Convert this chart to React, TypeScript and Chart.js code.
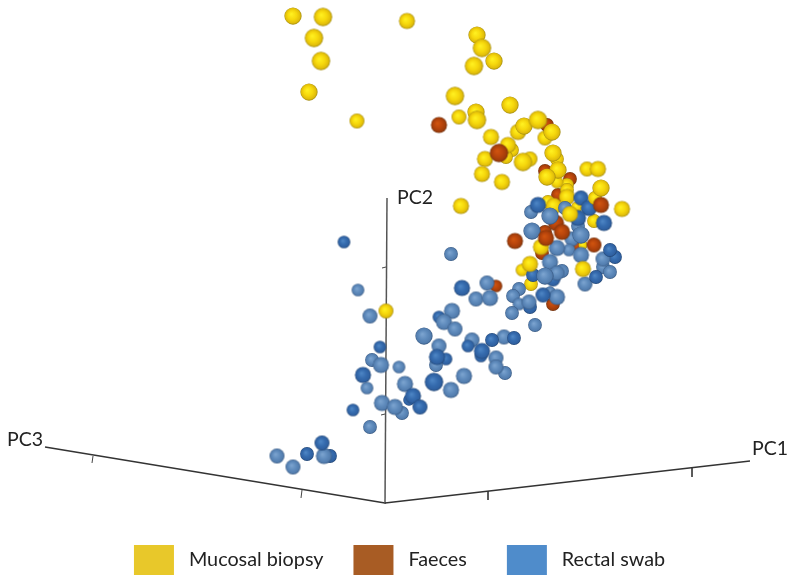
import { useEffect, useRef } from "react";
import { Chart, registerables } from "chart.js";

Chart.register(...registerables);

type P = [number, number, number];

const seriesNames = ["Mucosal biopsy", "Faeces", "Rectal swab"];
const axisNames = ["PC1", "PC2", "PC3"];
const axisNameAnchors = [[752, 449], [397, 198], [7, 440]];

// Projected [PC-plane x, PC-plane y, apparent size]
const mucosalFront: P[] = [
  [293, 16, 7.5], [323, 17, 8], [314, 38, 8], [321, 61, 8], [309, 92, 7.5], [357, 121, 6.5], [407, 21, 7],
  [477, 35, 7.5], [482, 48, 8], [494, 61, 7.5], [474, 66, 8], [455, 96, 8], [476, 112, 7.5], [477, 120, 8],
  [459, 117, 6.5], [510, 105, 7.5], [518, 132, 7], [524, 126, 7.5], [538, 120, 8], [545, 138, 6.5], [552, 132, 7.5],
  [491, 137, 7], [512, 150, 6], [506, 157, 6], [508, 145, 7], [485, 159, 7], [530, 159, 6.5], [523, 162, 8],
  [482, 174, 7], [502, 182, 7], [557, 159, 6], [553, 153, 7.5], [557, 182, 5.5], [558, 170, 7.5], [547, 177, 7.5],
  [587, 169, 6.5], [598, 169, 7], [595, 198, 6], [601, 188, 7.5], [622, 209, 7], [461, 206, 7], [570, 214, 7],
  [530, 264, 7], [583, 269, 7], [386, 311, 6.5],
];
const mucosalBack: P[] = [
  [567, 185, 6], [567, 190, 6], [567, 197, 7], [548, 202, 6], [554, 206, 7], [577, 207, 5], [594, 221, 6],
  [583, 245, 4], [541, 247, 7], [522, 270, 5.5], [531, 284, 6],
];
const faecesFront: P[] = [
  [439, 125, 7], [499, 153, 8], [601, 205, 7], [562, 232, 7], [546, 238, 7], [515, 241, 7], [594, 245, 6.5],
];
const faecesBack: P[] = [
  [547, 125, 6], [545, 171, 6], [570, 179, 6], [558, 195, 6], [556, 223, 7], [545, 232, 6], [577, 246, 5],
  [542, 253, 6], [496, 286, 5.5], [553, 304, 6],
];
const rectalLight: P[] = [
  [531, 212, 6], [565, 208, 6], [550, 216, 7.5], [578, 226, 6], [572, 239, 6.5], [581, 235, 7.5], [532, 231, 7.5],
  [569, 250, 5.5], [557, 248, 7], [581, 255, 7], [603, 267, 6], [610, 272, 6], [603, 259, 6.5], [585, 284, 6.5],
  [550, 262, 7], [562, 271, 6], [557, 273, 6.5], [545, 276, 7.5], [519, 289, 6], [513, 296, 6], [519, 304, 5.5],
  [529, 302, 6.5], [512, 313, 6], [550, 292, 5], [557, 297, 7], [487, 283, 6.5], [476, 299, 6.5], [490, 298, 7],
  [535, 325, 6], [452, 311, 7], [444, 322, 7], [455, 329, 6.5], [424, 336, 7.5], [439, 346, 6.5], [436, 365, 6],
  [472, 340, 6.5], [504, 337, 6.5], [496, 358, 6.5], [505, 373, 6], [496, 367, 6.5], [464, 376, 7], [451, 390, 7],
  [358, 290, 5.5], [370, 316, 6.5], [372, 360, 6], [381, 365, 7], [399, 367, 5.5], [367, 388, 5.5], [405, 384, 7],
  [402, 413, 6], [382, 403, 7], [395, 407, 7], [370, 427, 6], [277, 456, 6.5], [293, 467, 6.5], [324, 456, 7],
  [451, 254, 6],
];
const rectalDarkBack: P[] = [
  [530, 307, 6], [553, 279, 6.5], [533, 275, 6], [439, 317, 5.5], [446, 359, 5.5], [481, 356, 5.5], [409, 400, 5],
  [330, 456, 6], [615, 257, 6],
];
const rectalDarkFront: P[] = [
  [538, 205, 7], [581, 198, 6.5], [589, 208, 7], [604, 223, 7], [610, 250, 6], [596, 277, 6], [578, 218, 7],
  [543, 295, 6.5], [462, 288, 7], [437, 357, 7], [482, 351, 7], [492, 340, 6], [514, 338, 6], [468, 346, 5.5],
  [413, 396, 7], [420, 407, 6.5], [363, 375, 7], [344, 242, 5.5], [353, 410, 5.5], [380, 347, 5.5], [322, 443, 6.5],
  [307, 454, 6], [434, 382, 8],
];

const axisPC1 = [[385, 503], [750, 461]];
const axisPC2 = [[385, 504], [387, 198]];
const axisPC3 = [[385, 503], [45, 447]];
const axisTicks = [
  [[93, 456], [92, 463]],
  [[302, 490], [301, 498]],
  [[488, 491], [488, 500]],
  [[692, 468], [692, 477]],
  [[386, 267], [382, 268]],
  [[385, 414], [381, 415]],
];

const swatchColors = ["#E8C82A", "#A85C24", "#4F8CCB"];
const FONT = 'Lato, "Open Sans", sans-serif';
const SIZE_FACTOR = 1.15;

const shades: Record<string, [string, string, string, string]> = {
  yellow: ["#FFF020", "#F6D80C", "#E0BC0A", "#A08A10"],
  brown: ["#D0540F", "#B8450C", "#9E3C0A", "#6E3210"],
  blue: ["#7BA3CF", "#5F8BBC", "#527CAD", "#34557E"],
  darkBlue: ["#4D85C4", "#356BAE", "#2F60A0", "#1F4270"],
};

const spriteCache = new Map<string, HTMLCanvasElement>();
function sphere(shade: string, size: number): HTMLCanvasElement {
  const r = size * SIZE_FACTOR;
  const key = shade + size;
  const hit = spriteCache.get(key);
  if (hit) return hit;
  const dim = Math.ceil(r * 2) + 2;
  const c = document.createElement("canvas");
  c.width = dim;
  c.height = dim;
  const g = c.getContext("2d")!;
  const m = dim / 2;
  const s = shades[shade];
  const grad = g.createRadialGradient(m - r * 0.2, m - r * 0.22, r * 0.05, m, m, r);
  grad.addColorStop(0, s[0]);
  grad.addColorStop(0.5, s[1]);
  grad.addColorStop(0.85, s[2]);
  grad.addColorStop(1, s[3]);
  g.fillStyle = grad;
  g.beginPath();
  g.arc(m, m, r, 0, Math.PI * 2);
  g.fill();
  spriteCache.set(key, c);
  return c;
}

const pts = (list: P[]) => list.map(([x, y, r]) => ({ x, y, r }));
const line = (list: number[][]) => list.map(([x, y]) => ({ x, y }));

function balls(label: string, list: P[], shade: string, swatch: string, order: number) {
  return {
    type: "scatter" as const,
    label,
    data: pts(list),
    order,
    showLine: false,
    backgroundColor: swatch,
    borderColor: swatch,
    borderWidth: 0,
    pointRadius: (ctx: any) => (ctx.raw ? ctx.raw.r : 6),
    pointStyle: (ctx: any) => (ctx.raw ? sphere(shade, ctx.raw.r) : "circle"),
  };
}

function stroke(list: number[][], color: string, width: number) {
  return {
    type: "scatter" as const,
    label: "axis",
    data: line(list),
    order: 20,
    showLine: true,
    borderColor: color,
    borderWidth: width,
    pointRadius: 0,
    fill: false,
    tension: 0,
  };
}

const axisNamePlugin = {
  id: "axisNames",
  afterDatasetsDraw(chart: any) {
    const { ctx, scales } = chart;
    ctx.save();
    ctx.font = `19.5px ${FONT}`;
    ctx.fillStyle = "#222222";
    ctx.textAlign = "left";
    ctx.textBaseline = "middle";
    axisNames.forEach((name, i) => {
      const [x, y] = axisNameAnchors[i];
      ctx.fillText(name, scales.x.getPixelForValue(x), scales.y.getPixelForValue(y));
    });
    ctx.restore();
  },
};

export default function App() {
  const ref = useRef<HTMLCanvasElement>(null);
  useEffect(() => {
    if (!ref.current) return;
    const chart = new Chart(ref.current, {
      type: "scatter",
      data: {
        datasets: [
          balls(seriesNames[0], mucosalFront, "yellow", swatchColors[0], 2),
          balls(seriesNames[1], faecesFront, "brown", swatchColors[1], 1),
          balls(seriesNames[2], rectalLight, "blue", swatchColors[2], 6),
          balls(seriesNames[2], rectalDarkFront, "darkBlue", swatchColors[2], 5),
          balls(seriesNames[2], rectalDarkBack, "darkBlue", swatchColors[2], 7),
          balls(seriesNames[0], mucosalBack, "yellow", swatchColors[0], 8),
          balls(seriesNames[1], faecesBack, "brown", swatchColors[1], 9),
          stroke(axisPC1, "#333333", 1.3),
          stroke(axisPC2, "#555555", 1.5),
          stroke(axisPC3, "#333333", 1.3),
          ...axisTicks.map((t) => stroke(t, "#444444", 1)),
        ] as any,
      },
      options: {
        responsive: false,
        animation: false,
        layout: { padding: { left: 6 }, autoPadding: false },
        scales: {
          x: { type: "linear", display: false, min: 6, max: 793 },
          y: { type: "linear", display: false, min: 0, max: 515, reverse: true },
        },
        plugins: {
          title: { display: false },
          tooltip: { enabled: false },
          legend: {
            display: true,
            position: "bottom",
            labels: {
              boxWidth: 40,
              boxHeight: 30,
              padding: 30,
              color: "#222222",
              font: { size: 19.8, family: FONT },
              generateLabels: (c: any) =>
                Chart.defaults.plugins.legend.labels.generateLabels(c).map((it: any) => ({
                  ...it,
                  text: " " + it.text + (it.text === seriesNames[1] ? "  " : ""),
                  lineWidth: 0,
                })),
              filter: (item: any) => item.datasetIndex < 3,
              sort: (a: any, b: any) => a.datasetIndex - b.datasetIndex,
            },
          },
        },
      },
      plugins: [axisNamePlugin],
    });
    return () => chart.destroy();
  }, []);
  return (
    <div style={{ position: "fixed", left: 0, top: 0, width: 793, height: 585, background: "#fff" }}>
      <canvas ref={ref} width={793} height={585} style={{ display: "block" }} />
    </div>
  );
}
